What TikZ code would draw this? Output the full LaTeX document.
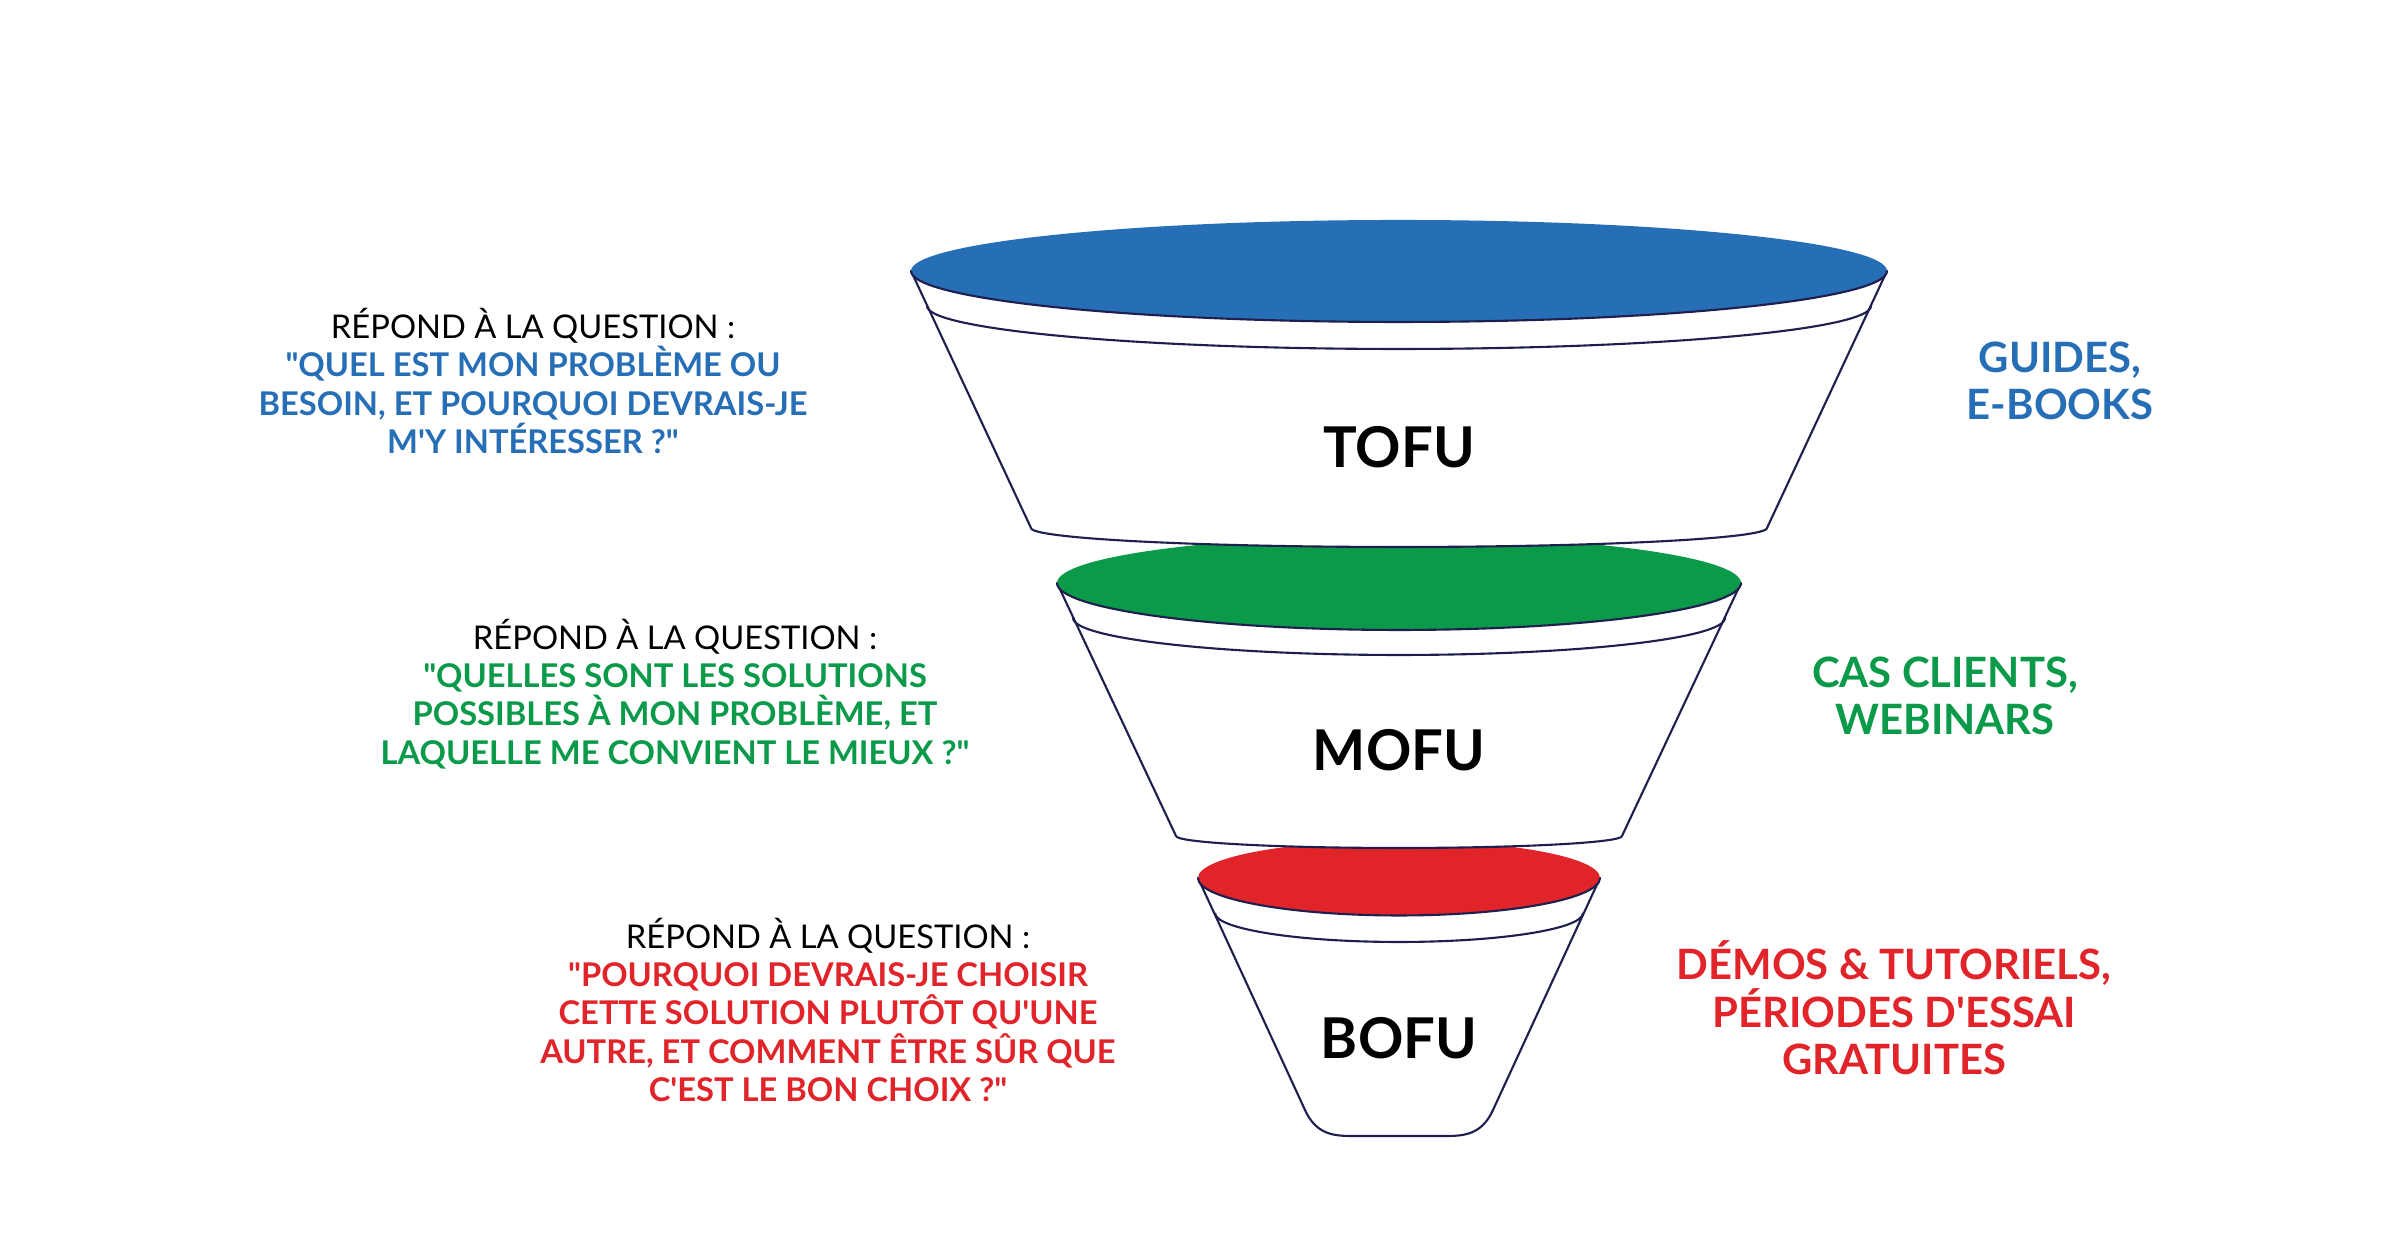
\documentclass[tikz,border=0pt]{standalone}
\usepackage{fontspec}
\setmainfont{Lato}[Ligatures=TeXOff]
\usepackage{tikz}
\usetikzlibrary{positioning,calc}
\definecolor{FunBlue}{HTML}{266EB6}
\definecolor{FunGreen}{HTML}{0A9A4A}
\definecolor{FunRed}{HTML}{E1242A}
\definecolor{FunInk}{HTML}{1F1F4F}
\tikzset{
  funbody/.style={draw=FunInk, line width=0.6pt, fill=white, line join=round},
  funrim/.style={draw=FunInk, line width=0.6pt},
  stagelabel/.style={font=\bfseries\fontsize{16}{20}\selectfont, text=black},
  qlabel/.style={align=center, font=\bfseries\fontsize{9.3}{10.9}\selectfont},
  medlabel/.style={align=center, font=\bfseries\fontsize{11.9}{13.5}\selectfont}
}

\begin{document}
\begin{tikzpicture}
\useasboundingbox (0,0) rectangle (24.01,12.57);
% bottom of the funnel
\draw[funbody] (11.98,3.79) -- (13.05,1.47) .. controls (13.15,1.25) and (13.3,1.21) .. (13.5,1.21) -- (14.48,1.21) .. controls (14.68,1.21) and (14.83,1.25) .. (14.93,1.47) -- (16.00,3.79) -- cycle;
\fill[FunRed] (13.99,3.79) ellipse[x radius=2.01, y radius=0.375];
\draw[funrim] (11.98,3.79) arc[start angle=180, end angle=360, x radius=2.01, y radius=0.375];
\draw[funrim] (12.15,3.44) arc[start angle=180, end angle=360, x radius=1.84, y radius=0.29];
\node[stagelabel] (bofu) at (13.99,2.19) {BOFU};
% middle of the funnel
\draw[funbody] (10.57,6.74) -- (11.76,4.21) arc[start angle=180, end angle=360, x radius=2.23, y radius=0.12] -- (17.41,6.74) -- cycle;
\fill[FunGreen] (13.99,6.74) ellipse[x radius=3.42, y radius=0.47];
\draw[funrim] (10.57,6.74) arc[start angle=180, end angle=360, x radius=3.42, y radius=0.47];
\draw[funrim] (10.73,6.39) arc[start angle=180, end angle=360, x radius=3.26, y radius=0.37];
\node[stagelabel] (mofu) at (13.99,5.07) {MOFU};
% top of the funnel
\draw[funbody] (9.11,9.86) -- (10.31,7.29) arc[start angle=180, end angle=360, x radius=3.68, y radius=0.19] -- (18.87,9.86) -- cycle;
\fill[FunBlue] (13.99,9.86) ellipse[x radius=4.88, y radius=0.51];
\draw[funrim] (9.11,9.86) arc[start angle=180, end angle=360, x radius=4.88, y radius=0.51];
\draw[funrim] (9.27,9.51) arc[start angle=180, end angle=360, x radius=4.72, y radius=0.43];
\node[stagelabel] (tofu) at (13.99,8.10) {TOFU};
% questions
\node[qlabel, text=FunBlue] (qtofu) at (5.33,8.76) {\textcolor{black}{\mdseries RÉPOND À LA QUESTION :}\\"QUEL EST MON PROBLÈME OU\\BESOIN, ET POURQUOI DEVRAIS-JE\\M'Y INTÉRESSER ?"};
\node[qlabel, text=FunGreen] (qmofu) at (6.75,5.63) {\textcolor{black}{\mdseries RÉPOND À LA QUESTION :}\\"QUELLES SONT LES SOLUTIONS\\POSSIBLES À MON PROBLÈME, ET\\LAQUELLE ME CONVIENT LE MIEUX ?"};
\node[qlabel, text=FunRed] (qbofu) at (8.28,2.47) {\textcolor{black}{\mdseries RÉPOND À LA QUESTION :}\\"POURQUOI DEVRAIS-JE CHOISIR\\CETTE SOLUTION PLUTÔT QU'UNE\\AUTRE, ET COMMENT ÊTRE SÛR QUE\\C'EST LE BON CHOIX ?"};
% contents
\node[medlabel, text=FunBlue] (ctofu) at (20.60,8.76) {GUIDES,\\E-BOOKS};
\node[medlabel, text=FunGreen] (cmofu) at (19.45,5.61) {CAS CLIENTS,\\WEBINARS};
\node[medlabel, text=FunRed] (cbofu) at (18.94,2.49) {DÉMOS \& TUTORIELS,\\PÉRIODES D'ESSAI\\GRATUITES};
\end{tikzpicture}
\end{document}
